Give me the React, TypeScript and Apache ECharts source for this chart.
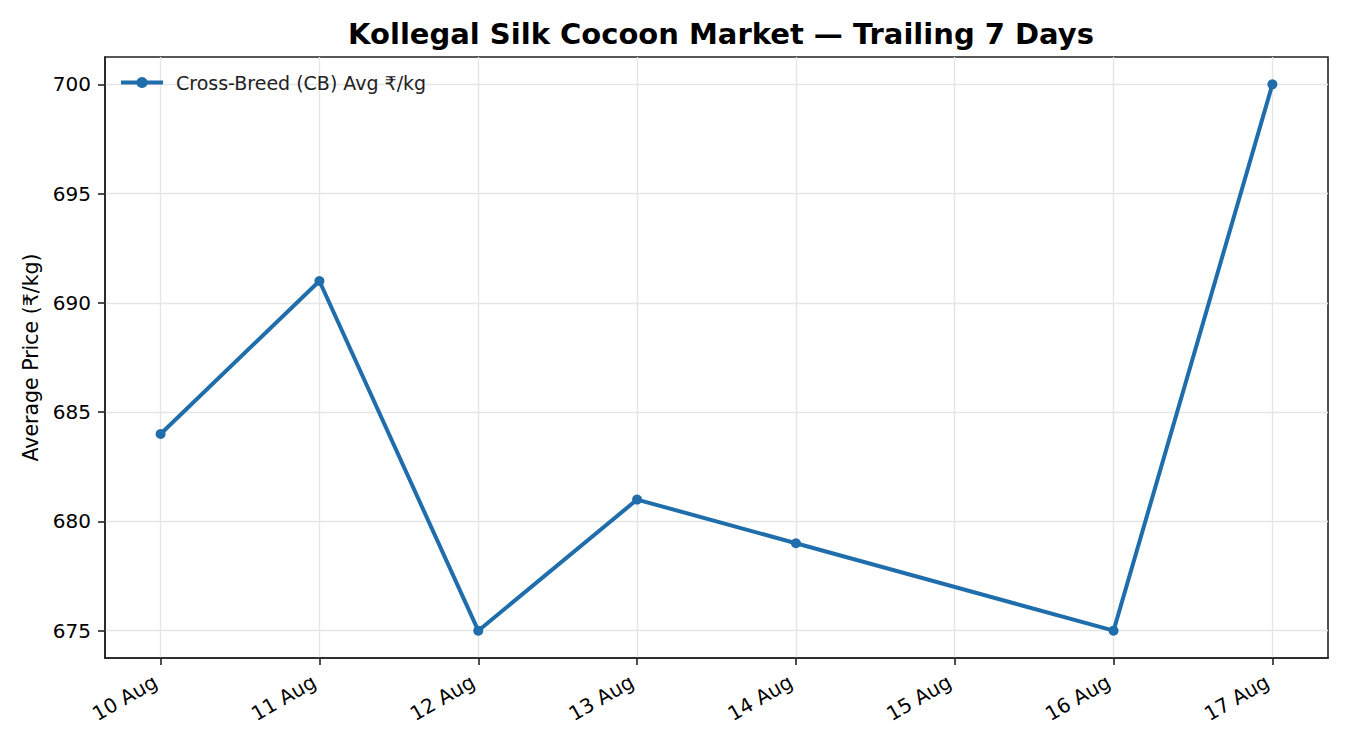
import React, { useEffect, useRef } from "react";
import * as echarts from "echarts";

const days: number[] = [10, 11, 12, 13, 14, 16, 17];
const prices: number[] = [684, 691, 675, 681, 679, 675, 700];
const xTicks: number[] = [10, 11, 12, 13, 14, 15, 16, 17];
const yTicks: number[] = [675, 680, 685, 690, 695, 700];
const monthLabel = "Aug";
const seriesName = "Cross-Breed (CB) Avg ₹/kg";
const titleText = "Kollegal Silk Cocoon Market — Trailing 7 Days";
const yAxisTitle = "Average Price (₹/kg)";

export default function App() {
  const ref = useRef<HTMLDivElement>(null);
  useEffect(() => {
    document.body.style.margin = "0";
    if (!ref.current) return;
    const chart = echarts.init(ref.current, null, { renderer: "svg" });
    const font = "DejaVu Sans";
    const lineColor = "#1f6dab";
    const spine = "#222222";
    chart.setOption({
      animation: false,
      backgroundColor: "#ffffff",
      textStyle: { fontFamily: font },
      title: {
        text: titleText,
        left: 716,
        textAlign: "center",
        top: 14,
        textStyle: { fontFamily: font, fontSize: 29, fontWeight: "bold", color: "#000" },
      },
      legend: {
        left: 114,
        top: 68,
        padding: 5,
        itemWidth: 42,
        itemHeight: 14,
        itemGap: 10,
        lineStyle: { width: 4 },
        textStyle: { fontFamily: font, fontSize: 19, color: "#222", padding: [0, 0, 0, 8] },
        data: [seriesName],
      },
      grid: {
        left: 105,
        right: 22,
        top: 57,
        bottom: 92,
        show: true,
        borderColor: spine,
        borderWidth: 1.6,
        backgroundColor: "transparent",
      },
      xAxis: {
        type: "value",
        min: 9.65,
        max: 17.35,
        axisLine: { show: true, lineStyle: { color: spine, width: 1.6 } },
        axisTick: {
          show: true,
          length: 7,
          inside: false,
          customValues: xTicks,
          lineStyle: { color: spine, width: 1.6 },
        },
        axisLabel: {
          customValues: xTicks,
          rotate: 30,
          margin: 19,
          padding: [0, 6, 0, 0],
          fontFamily: font,
          fontSize: 20,
          color: "#000",
          formatter: (v: number) => `${Math.round(v)} ${monthLabel}`,
        },
        splitLine: { show: true, lineStyle: { color: "#e5e5e5", width: 1.3 } },
      },
      yAxis: {
        type: "value",
        min: 673.75,
        max: 701.25,
        name: yAxisTitle,
        nameLocation: "middle",
        nameGap: 61,
        nameTextStyle: { fontFamily: font, fontSize: 20.5, color: "#000" },
        axisLine: { show: true, lineStyle: { color: spine, width: 1.6 } },
        axisTick: {
          show: true,
          length: 7,
          customValues: yTicks,
          lineStyle: { color: spine, width: 1.6 },
        },
        axisLabel: {
          customValues: yTicks,
          margin: 14,
          fontFamily: font,
          fontSize: 20,
          color: "#000",
        },
        splitLine: { show: true, lineStyle: { color: "#e5e5e5", width: 1.3 } },
      },
      series: [
        {
          name: seriesName,
          type: "line",
          data: days.map((d, i) => [d, prices[i]]),
          symbol: "circle",
          symbolSize: 10,
          lineStyle: { color: lineColor, width: 4 },
          itemStyle: { color: lineColor },
        },
      ],
    });
    return () => chart.dispose();
  }, []);
  return <div ref={ref} style={{ width: 1350, height: 750 }} />;
}
